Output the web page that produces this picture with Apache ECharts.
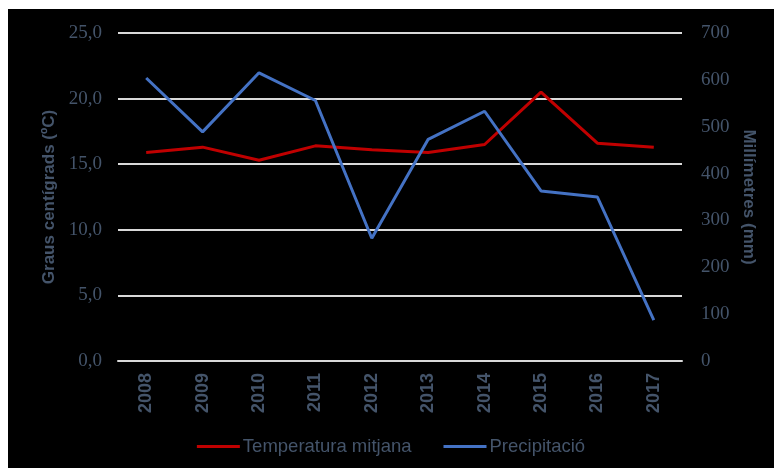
<!DOCTYPE html>
<html>
<head>
<meta charset="utf-8">
<script src="https://cdn.jsdelivr.net/npm/echarts@6/dist/echarts.min.js"></script>
<style>
html,body{margin:0;padding:0;background:#fff;width:774px;height:468px;overflow:hidden;}
#wrap{position:absolute;left:8px;top:9px;width:766px;height:459px;background:#000;}
#chart{width:766px;height:459px;}
</style>
</head>
<body>
<div id="wrap"><div id="chart"></div></div>
<script>
const years = ['2008','2009','2010','2011','2012','2013','2014','2015','2016','2017'];
const temperatura = [15.9, 16.3, 15.3, 16.4, 16.1, 15.9, 16.5, 20.5, 16.6, 16.3];
const precipitacio = [604, 489, 615, 556, 262, 473, 533, 363, 350, 87];
const tempTicks = [0, 5, 10, 15, 20, 25];
const precTicks = [0, 100, 200, 300, 400, 500, 600, 700];

const textColor = '#44546A';
const chart = echarts.init(document.getElementById('chart'), null, {renderer: 'canvas'});
chart.setOption({
  backgroundColor: '#000',
  animation: false,
  grid: {left: 110, right: 92, top: 24, bottom: 107, containLabel: false},
  legend: {
    bottom: 7,
    left: 'center',
    icon: 'rect',
    itemWidth: 43,
    itemHeight: 3,
    itemGap: 32,
    textStyle: {color: textColor, fontSize: 18.5, fontFamily: 'Liberation Sans', padding: [0, 0, 0, -2]},
    data: ['Temperatura mitjana', 'Precipitació']
  },
  xAxis: {
    type: 'category',
    data: years,
    boundaryGap: true,
    axisLine: {show: true, lineStyle: {color: '#d9d9d9', width: 2}},
    axisTick: {show: false},
    axisLabel: {rotate: 90, margin: 12, color: textColor, fontSize: 18, fontWeight: 'bold', fontFamily: 'Liberation Sans'}
  },
  yAxis: [
    {
      type: 'value',
      min: tempTicks[0],
      max: tempTicks[tempTicks.length - 1],
      interval: 5,
      name: 'Graus centígrads (ºC)',
      nameLocation: 'middle',
      nameRotate: 90,
      nameGap: 59,
      nameTextStyle: {color: textColor, fontSize: 17, fontWeight: 'bold', fontFamily: 'Liberation Sans'},
      axisLine: {show: false},
      axisTick: {show: false},
      axisLabel: {margin: 16, color: textColor, fontSize: 19, fontFamily: 'Liberation Serif',
        formatter: v => v.toFixed(1).replace('.', ',')},
      splitLine: {show: true, lineStyle: {color: '#d9d9d9', width: 2}}
    },
    {
      type: 'value',
      position: 'right',
      min: precTicks[0],
      max: precTicks[precTicks.length - 1],
      interval: 100,
      name: 'Millímetres (mm)',
      nameLocation: 'middle',
      nameRotate: -90,
      nameGap: 57,
      nameTextStyle: {color: textColor, fontSize: 17, fontWeight: 'bold', fontFamily: 'Liberation Sans'},
      axisLine: {show: false},
      axisTick: {show: false},
      axisLabel: {margin: 19, color: textColor, fontSize: 19, fontFamily: 'Liberation Serif'},
      splitLine: {show: false}
    }
  ],
  series: [
    {
      name: 'Temperatura mitjana',
      type: 'line',
      yAxisIndex: 0,
      data: temperatura,
      showSymbol: false,
      symbol: 'none',
      lineStyle: {color: '#C00000', width: 3},
      itemStyle: {color: '#C00000'}
    },
    {
      name: 'Precipitació',
      type: 'line',
      yAxisIndex: 1,
      data: precipitacio,
      showSymbol: false,
      symbol: 'none',
      lineStyle: {color: '#4472C4', width: 3},
      itemStyle: {color: '#4472C4'}
    }
  ]
});
</script>
</body>
</html>
